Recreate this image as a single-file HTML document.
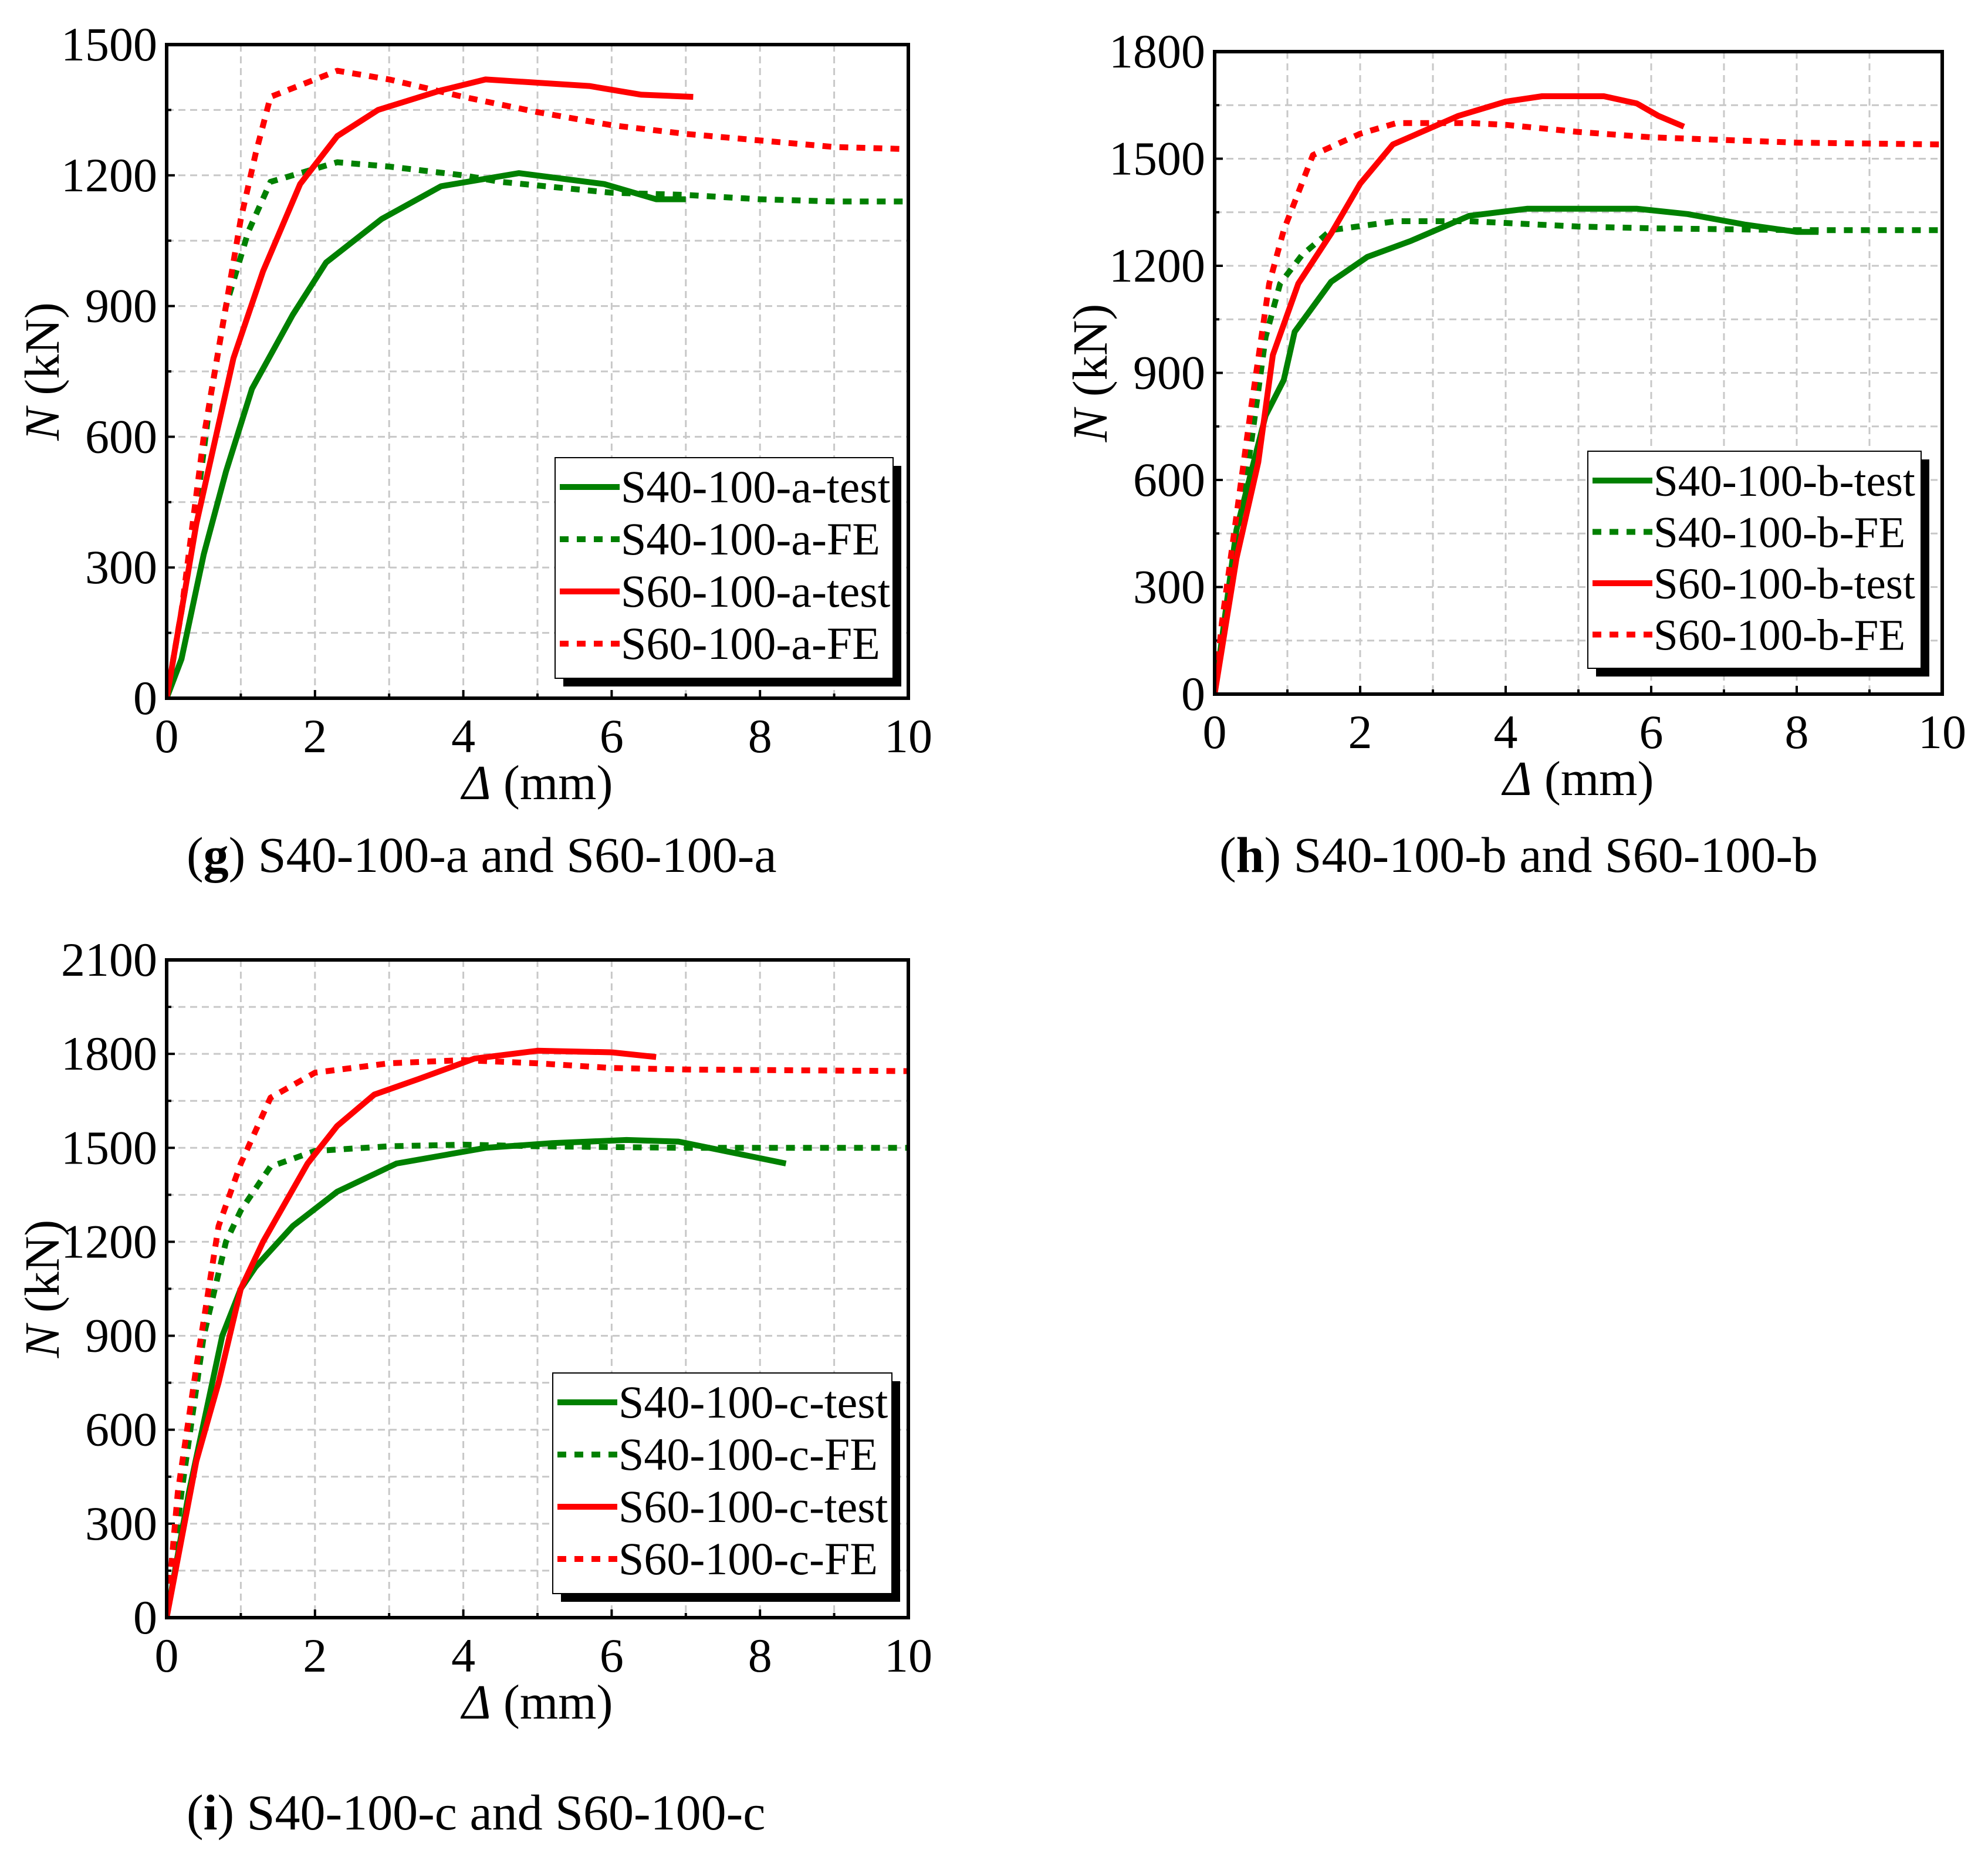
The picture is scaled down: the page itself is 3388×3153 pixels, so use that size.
<!DOCTYPE html>
<html><head><meta charset="utf-8"><style>
html,body{margin:0;padding:0;background:#fff}
svg{display:block}
text{font-family:"Liberation Serif",serif;fill:#000}
</style></head><body>
<svg id="fig" width="3388" height="3153" viewBox="0 0 3388 3153" xmlns="http://www.w3.org/2000/svg"></svg>
<script>
// ---- data ----
const gS40testX=[0,0.2,0.5,0.8,1.15,1.7,2.15,2.9,3.7,4.75,5.9,6.6,7.0];
const gS40testY=[0,90,330,520,710,880,1000,1100,1175,1205,1180,1145,1145];
const gS40feX=[0,0.3,0.6,0.8,1.1,1.4,2.3,3,4,4.5,6,7,8,9,10];
const gS40feY=[0,300,700,900,1070,1185,1230,1220,1200,1185,1160,1155,1145,1140,1140];
const gS60testX=[0,0.4,0.9,1.3,1.8,2.3,2.85,3.7,4.3,5.7,6.4,7.1];
const gS60testY=[0,400,780,980,1180,1290,1350,1395,1420,1405,1385,1380];
const gS60feX=[0,0.2,0.5,0.8,1.0,1.2,1.4,2.3,3,4,5,6,7,8,9,10];
const gS60feY=[0,200,600,900,1100,1250,1380,1440,1420,1380,1345,1315,1295,1280,1265,1260];

const hS40testX=[0,0.3,0.7,0.95,1.1,1.6,2.1,2.7,3.5,4.3,5.8,6.5,7.3,8,8.3];
const hS40testY=[0,460,780,880,1015,1155,1225,1270,1340,1360,1360,1345,1315,1295,1295];
const hS40feX=[0,0.2,0.5,0.7,0.9,1.2,1.6,2.5,3.5,5,6,8,10];
const hS40feY=[0,300,700,1000,1150,1230,1300,1325,1325,1310,1305,1300,1300];
const hS60testX=[0,0.3,0.6,0.8,1.15,1.6,2,2.45,3.35,4,4.5,5.35,5.8,6.1,6.45];
const hS60testY=[0,380,650,950,1150,1290,1430,1540,1620,1660,1675,1675,1655,1620,1590];
const hS60feX=[0,0.1,0.3,0.5,0.75,0.95,1.35,2,2.5,3.5,4,5,6,8,10];
const hS60feY=[0,200,500,800,1150,1300,1510,1570,1600,1600,1595,1575,1560,1545,1540];

const iS40testX=[0,0.3,0.75,1,1.2,1.7,2.3,3.1,4.3,5.2,6.2,6.9,8.35];
const iS40testY=[0,400,900,1050,1120,1250,1360,1450,1500,1515,1525,1520,1450];
const iS40feX=[0,0.2,0.5,0.8,1,1.4,2,3,4,5,7,10];
const iS40feY=[0,400,900,1200,1300,1440,1490,1505,1510,1505,1500,1500];
const iS60testX=[0,0.4,0.7,1,1.3,1.9,2.3,2.8,3.4,4.15,5,6,6.6];
const iS60testY=[0,500,750,1050,1200,1450,1570,1670,1720,1785,1810,1805,1790];
const iS60feX=[0,0.15,0.4,0.7,1,1.4,2,3,4,5,6,7,10];
const iS60feY=[0,400,800,1250,1450,1660,1740,1770,1780,1770,1755,1750,1745];

const xTicks=[0,2,4,6,8,10];
const gYTicks=[0,300,600,900,1200,1500];
const hYTicks=[0,300,600,900,1200,1500,1800];
const iYTicks=[0,300,600,900,1200,1500,1800,2100];

const NS="http://www.w3.org/2000/svg";
const fig=document.getElementById('fig');
function mk(tag,attrs,parent){const e=document.createElementNS(NS,tag);for(const k in attrs)e.setAttribute(k,attrs[k]);(parent||fig).appendChild(e);return e;}

function chart(id,box,yMax,yTicks,series,leg,legFont,caption,capX,capY,titleX){
  const g=mk('g',{});
  
  
  const L=box[0],R=box[1],T=box[2],B=box[3];
  const sx=v=>L+(R-L)*v/10;
  const sy=v=>B-(B-T)*v/yMax;
  const step=yTicks[1]-yTicks[0];
  for(let v=1;v<10;v++){const l=mk('line',{x1:sx(v),x2:sx(v),y1:T,y2:B,stroke:'#c8c8c8','stroke-width':3,'stroke-dasharray':'12 8'},g);
    }
  for(let v=step/2;v<yMax;v+=step/2){const l=mk('line',{x1:L,x2:R,y1:sy(v),y2:sy(v),stroke:'#c8c8c8','stroke-width':3,'stroke-dasharray':'12 8'},g);
    }
  for(let v=0;v<=10;v++){mk('line',{x1:sx(v),x2:sx(v),y1:B,y2:B-(v%2?8:14),stroke:'#000','stroke-width':4},g);}
  for(let v=0;v<=yMax;v+=step/2){const maj=Math.abs(v/step-Math.round(v/step))<1e-6;mk('line',{x1:L,x2:L+(maj?14:8),y1:sy(v),y2:sy(v),stroke:'#000','stroke-width':4},g);}
  xTicks.forEach(v=>{const t=mk('text',{x:sx(v),y:B+92,'font-size':82,'text-anchor':'middle'},g);t.textContent=v;
    });
  yTicks.forEach(v=>{const t=mk('text',{x:L-16,y:sy(v)+27,'font-size':82,'text-anchor':'end'},g);t.textContent=v;
    });
  const xt=mk('text',{x:(L+R)/2,y:B+172,'font-size':84,'text-anchor':'middle'},g);
  xt.innerHTML='<tspan font-style="italic">Δ</tspan> (mm)';
  
  const yt=mk('text',{x:0,y:0,'font-size':84,'text-anchor':'middle',transform:`translate(${titleX},${(T+B)/2}) rotate(-90)`},g);
  yt.innerHTML='<tspan font-style="italic">N</tspan> (kN)';
  
  const cp=mk('clipPath',{id:'clip'+id},g);mk('rect',{x:L,y:T-10,width:R-L,height:B-T+10},cp);
  series.forEach(s=>{
    const pts=s.x.map((xv,i)=>sx(xv).toFixed(1)+','+sy(s.y[i]).toFixed(1)).join(' ');
    const p=mk('polyline',{points:pts,fill:'none',stroke:s.c,'stroke-width':10,'stroke-linejoin':'round','clip-path':`url(#clip${id})`},g);
    if(s.d)p.setAttribute('stroke-dasharray','15 14');
    
  });
  const fr=mk('rect',{x:L,y:T,width:R-L,height:B-T,fill:'none',stroke:'#000','stroke-width':6},g);
  
  const lg=mk('g',{},g);
  
  const [lx,ly,lw,lh]=leg;
  mk('rect',{x:lx+14,y:ly+14,width:lw,height:lh,fill:'#000'},lg);
  mk('rect',{x:lx,y:ly,width:lw,height:lh,fill:'#fff',stroke:'#000','stroke-width':2},lg);
  series.forEach((s,i)=>{
    const yy=ly+50+i*(lh-20)/4;
    const ln=mk('line',{x1:lx+8,x2:lx+110,y1:yy,y2:yy,stroke:s.c,'stroke-width':10},lg);
    if(s.d)ln.setAttribute('stroke-dasharray','15 14');
    const t=mk('text',{x:lx+112,y:yy+26,'font-size':legFont},lg);t.textContent=s.label;
    
  });
  const cap=mk('text',{x:capX,y:capY,'font-size':86},g);
  cap.innerHTML=caption;
  
}

chart('g',[284,1548,76,1190],1500,gYTicks,[
 {x:gS40testX,y:gS40testY,c:'#008000',d:false,label:'S40-100-a-test',name:'s40-100-a-test-line'},
 {x:gS40feX,y:gS40feY,c:'#008000',d:true,label:'S40-100-a-FE',name:'s40-100-a-fe-line'},
 {x:gS60testX,y:gS60testY,c:'#ff0000',d:false,label:'S60-100-a-test',name:'s60-100-a-test-line'},
 {x:gS60feX,y:gS60feY,c:'#ff0000',d:true,label:'S60-100-a-FE',name:'s60-100-a-fe-line'}],
 [946,780,576,376],78,'(<tspan font-weight="bold">g</tspan>) S40-100-a and S60-100-a',318,1486,100);

chart('h',[2070,3310,88,1183],1800,hYTicks,[
 {x:hS40testX,y:hS40testY,c:'#008000',d:false,label:'S40-100-b-test',name:'s40-100-b-test-line'},
 {x:hS40feX,y:hS40feY,c:'#008000',d:true,label:'S40-100-b-FE',name:'s40-100-b-fe-line'},
 {x:hS60testX,y:hS60testY,c:'#ff0000',d:false,label:'S60-100-b-test',name:'s60-100-b-test-line'},
 {x:hS60feX,y:hS60feY,c:'#ff0000',d:true,label:'S60-100-b-FE',name:'s60-100-b-fe-line'}],
 [2706,769,568,370],75,'(<tspan font-weight="bold">h</tspan>) S40-100-b and S60-100-b',2078,1486,1886);

chart('i',[284,1548,1636,2757],2100,iYTicks,[
 {x:iS40testX,y:iS40testY,c:'#008000',d:false,label:'S40-100-c-test',name:'s40-100-c-test-line'},
 {x:iS40feX,y:iS40feY,c:'#008000',d:true,label:'S40-100-c-FE',name:'s40-100-c-fe-line'},
 {x:iS60testX,y:iS60testY,c:'#ff0000',d:false,label:'S60-100-c-test',name:'s60-100-c-test-line'},
 {x:iS60feX,y:iS60feY,c:'#ff0000',d:true,label:'S60-100-c-FE',name:'s60-100-c-fe-line'}],
 [942,2340,578,376],78,'(<tspan font-weight="bold">i</tspan>) S40-100-c and S60-100-c',318,3118,100);
</script>
</body></html>
